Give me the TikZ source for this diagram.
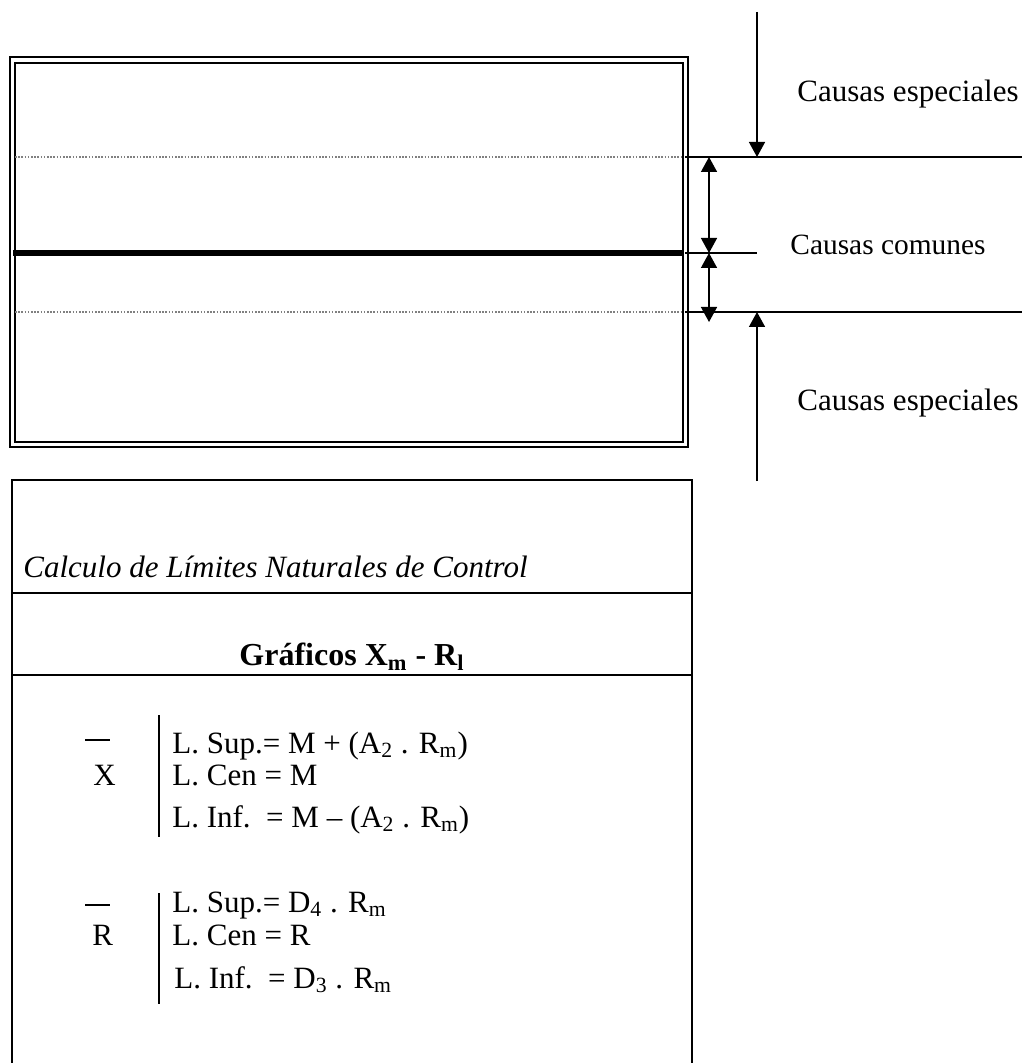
\documentclass[tikz,border=0pt]{standalone}
\usepackage{fontspec}
\setmainfont{Liberation Serif}
\usetikzlibrary{arrows.meta}
\begin{document}
\begin{tikzpicture}[x=0.5pt,y=-0.5pt,
  frameline/.style={line width=1pt},
  dotline/.style={gray, line width=0.6pt, dash pattern=on 0.8pt off 0.8pt},
  rule/.style={line width=0.9pt},
  thickrule/.style={line width=2.6pt},
  arr/.style={line width=0.75pt, -{Triangle[width=8pt,length=7.5pt]}},
  darr/.style={line width=0.75pt, {Triangle[width=8pt,length=7.5pt]}-{Triangle[width=8pt,length=7.5pt]}},
  lbl/.style={anchor=base west, inner sep=0pt, font=\fontsize{15.5pt}{18pt}\selectfont},
  boxline/.style={line width=1.1pt},
]
\useasboundingbox (0,0) rectangle (1032,1063);

% double frame
\draw[frameline] (10,57) rectangle (688,447);
\draw[frameline] (15,63) rectangle (683,442);

% dotted limit lines and centre line
\draw[dotline] (15,157) -- (683,157);
\draw[dotline] (15,312) -- (683,312);
\draw[thickrule] (13,253) -- (683,253);

% right side lines
\coordinate (ucsL) at (685,157);
\coordinate (ucsR) at (1022,157);
\coordinate (cenL) at (685,253);
\coordinate (cenR) at (757,253);
\coordinate (lcsL) at (685,312);
\coordinate (lcsR) at (1022,312);
\draw[rule] (ucsL) -- (ucsR);
\draw[rule] (cenL) -- (cenR);
\draw[rule] (lcsL) -- (lcsR);

% arrows
\coordinate (topS) at (757,12);
\coordinate (topE) at (757,157);
\coordinate (botS) at (757,481);
\coordinate (botE) at (757,312);
\draw[arr] (topS) -- (topE);
\draw[arr] (botS) -- (botE);
\coordinate (d1a) at (709,157);
\coordinate (d1b) at (709,253);
\coordinate (d2a) at (709,253);
\coordinate (d2b) at (709,322);
\draw[darr] (d1a) -- (d1b);
\draw[darr] (d2a) -- (d2b);

% labels
\node[lbl] (t1) at (797,102) {Causas especiales};
\node[lbl, font=\fontsize{14.7pt}{17pt}\selectfont] (t2) at (790,255) {Causas comunes};
\node[lbl] (t3) at (797,410) {Causas especiales};

% lower box
\draw[boxline] (12,1063) -- (12,480) -- (692,480) -- (692,1063);
\draw[boxline] (12,593) -- (692,593);
\draw[boxline] (12,675) -- (692,675);

\node[lbl, font=\fontsize{15.5pt}{18pt}\selectfont\itshape] (title) at (23,577) {Calculo de Límites Naturales de Control};
\node[anchor=base, inner sep=0pt, font=\fontsize{16pt}{19pt}\selectfont\bfseries] (graf) at (352,665) {Gráficos X\textsubscript{m} - R\textsubscript{l}};

% X section
\node[lbl] (X) at (93,785) {X};
\draw[line width=1pt] (85,740) -- (110,740);
\draw[line width=1pt] (159,715) -- (159,837);
\node[lbl] (x1) at (172,753) {L. Sup.= M + (A\textsubscript{2} . R\textsubscript{m})};
\node[lbl] (x2) at (172,785) {L. Cen = M};
\node[lbl] (x3) at (172,827) {L. Inf.\ \ = M – (A\textsubscript{2} . R\textsubscript{m})};

% R section
\node[lbl] (R) at (92,945) {R};
\draw[line width=1pt] (85,905) -- (110,905);
\draw[line width=1pt] (159,893) -- (159,1004);
\node[lbl] (r1) at (172,912) {L. Sup.= D\textsubscript{4} . R\textsubscript{m}};
\node[lbl] (r2) at (172,945) {L. Cen = R};
\node[lbl] (r3) at (174,988) {L. Inf.\ \ = D\textsubscript{3} . R\textsubscript{m}};
\end{tikzpicture}
\end{document}
